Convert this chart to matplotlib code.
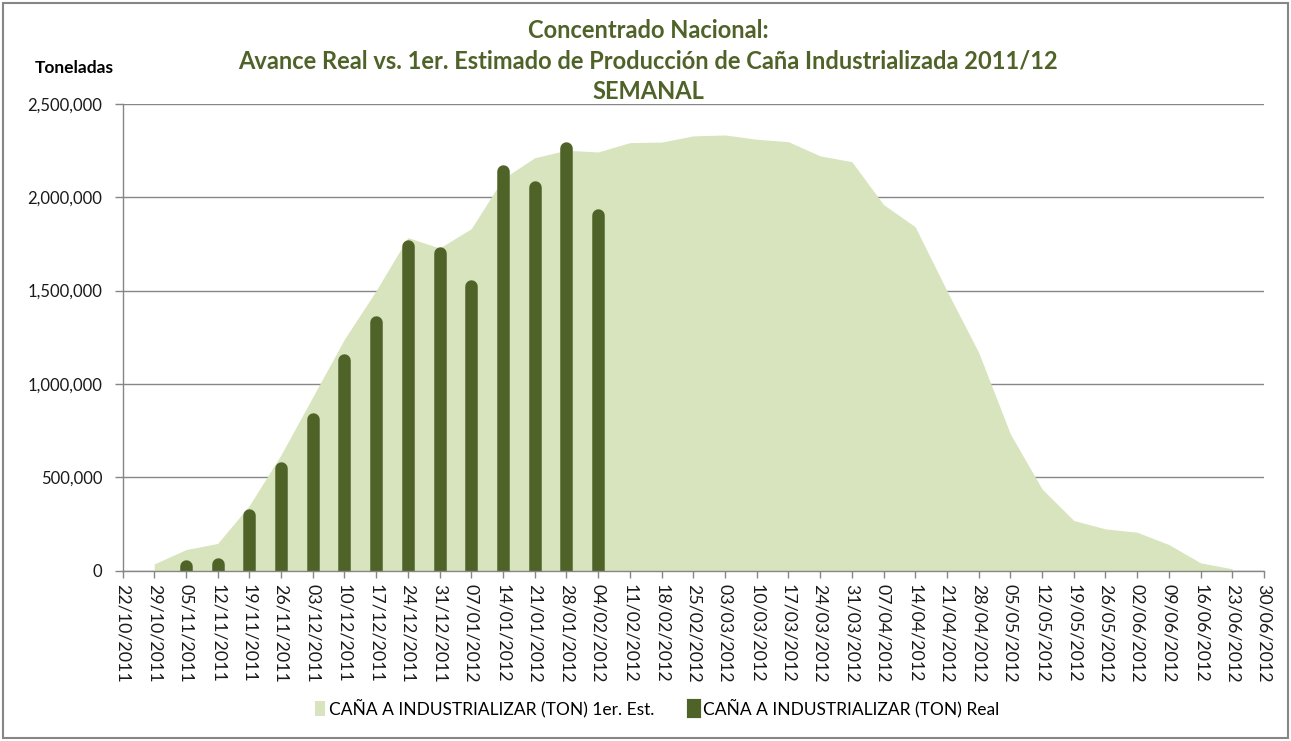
import pandas as pd
import matplotlib
matplotlib.use("Agg")
import matplotlib.pyplot as plt
import matplotlib.dates as mdates
from matplotlib.patches import Patch, Rectangle
from matplotlib.ticker import FuncFormatter

plt.rcParams['font.family'] = ['Lato', 'DejaVu Sans']

# weekly axis dates
week_dates = pd.date_range("2011-10-22", "2012-06-30", freq="7D")

# 1er. estimado, 29/10/2011 .. 23/06/2012
est_dates = pd.date_range("2011-10-29", "2012-06-23", freq="7D")
est_values = [35000, 112000, 145000, 348000, 620000, 930000, 1240000, 1500000,
              1784000, 1728000, 1832000, 2100000, 2212000, 2252000, 2243000,
              2293000, 2296000, 2329000, 2334000, 2311000, 2298000, 2222000,
              2191000, 1961000, 1842000, 1499000, 1169000, 732000, 437000,
              268000, 223000, 205000, 139000, 41000, 9000]

# avance real, 05/11/2011 .. 04/02/2012
real_dates = pd.date_range("2011-11-05", "2012-02-04", freq="7D")
real_values = [57000, 70000, 330000, 583000, 847000, 1163000, 1367000,
               1772000, 1736000, 1559000, 2177000, 2091000, 2296000, 1936000]

light = "#D7E4BD"
dark = "#4F6228"
grid = "#868686"

fig = plt.figure(figsize=(12.91, 7.41), dpi=100)
ax = fig.add_axes([122.5 / 1291, 1 - 570.5 / 741, (1264 - 122.5) / 1291, (570.5 - 104) / 741])
ax.set_xlim(week_dates[0], week_dates[-1])
ax.set_ylim(0, 2500000)

ax.fill_between(est_dates, est_values, 0, color=light, lw=0, zorder=2)

# bars drawn as thick lines with round caps; stop half a line width short so the cap ends at the value
bar_lw = 9.0  # points
units_per_px = 2500000 / ax.get_window_extent().height
cap = bar_lw / 72 * fig.dpi / 2 * units_per_px
ax.vlines(real_dates, 0, [v - cap for v in real_values], colors=dark,
          linewidth=bar_lw, capstyle='round', zorder=3)

ax.set_yticks(range(0, 2500001, 500000))
ax.yaxis.set_major_formatter(FuncFormatter(lambda v, p: f"{int(v):,}"))
ax.set_xticks(week_dates)
ax.xaxis.set_major_formatter(mdates.DateFormatter("%d/%m/%Y"))

ax.grid(axis='y', color=grid, lw=1)
ax.set_axisbelow(True)
for s in ['top', 'right']:
    ax.spines[s].set_visible(False)
for s in ['left', 'bottom']:
    ax.spines[s].set_color(grid)
    ax.spines[s].set_linewidth(1)
    ax.spines[s].set_zorder(4)
ax.tick_params(axis='y', length=5.5, width=1, color=grid, labelsize=12, pad=9, labelcolor="#1a1a1a")
ax.tick_params(axis='x', length=5, width=1, color=grid, labelsize=12.8, pad=5,
               labelrotation=-90, labelcolor="#1a1a1a")

fig.text(0.502, 0.974, "Concentrado Nacional:\nAvance Real vs. 1er. Estimado de Producción de Caña Industrializada 2011/12\nSEMANAL",
         ha='center', va='top', fontsize=17, fontweight='bold', color=dark, linespacing=1.38)
fig.text(35 / 1291, 1 - 68 / 741, "Toneladas", ha='left', va='center', fontsize=12.5, fontweight='bold')

handles = [Patch(facecolor=light, edgecolor=light, lw=0),
           Patch(facecolor=dark, edgecolor=dark, lw=3, joinstyle='round')]
labels = ["CAÑA A INDUSTRIALIZAR (TON) 1er. Est.", "CAÑA A INDUSTRIALIZAR (TON) Real"]
fig.legend(handles, labels, loc='center', bbox_to_anchor=(0.509, 1 - 708 / 741), ncol=2,
           frameon=False, fontsize=12.5, handlelength=0.6, handleheight=0.9,
           handletextpad=0.2, columnspacing=2.0)

fig.patches.append(Rectangle((3 / 1291, 3 / 741), 1 - 6 / 1291, 1 - 6 / 741, transform=fig.transFigure,
                             fill=False, edgecolor=grid, lw=1.5))

fig.savefig("out.png", dpi=100)
